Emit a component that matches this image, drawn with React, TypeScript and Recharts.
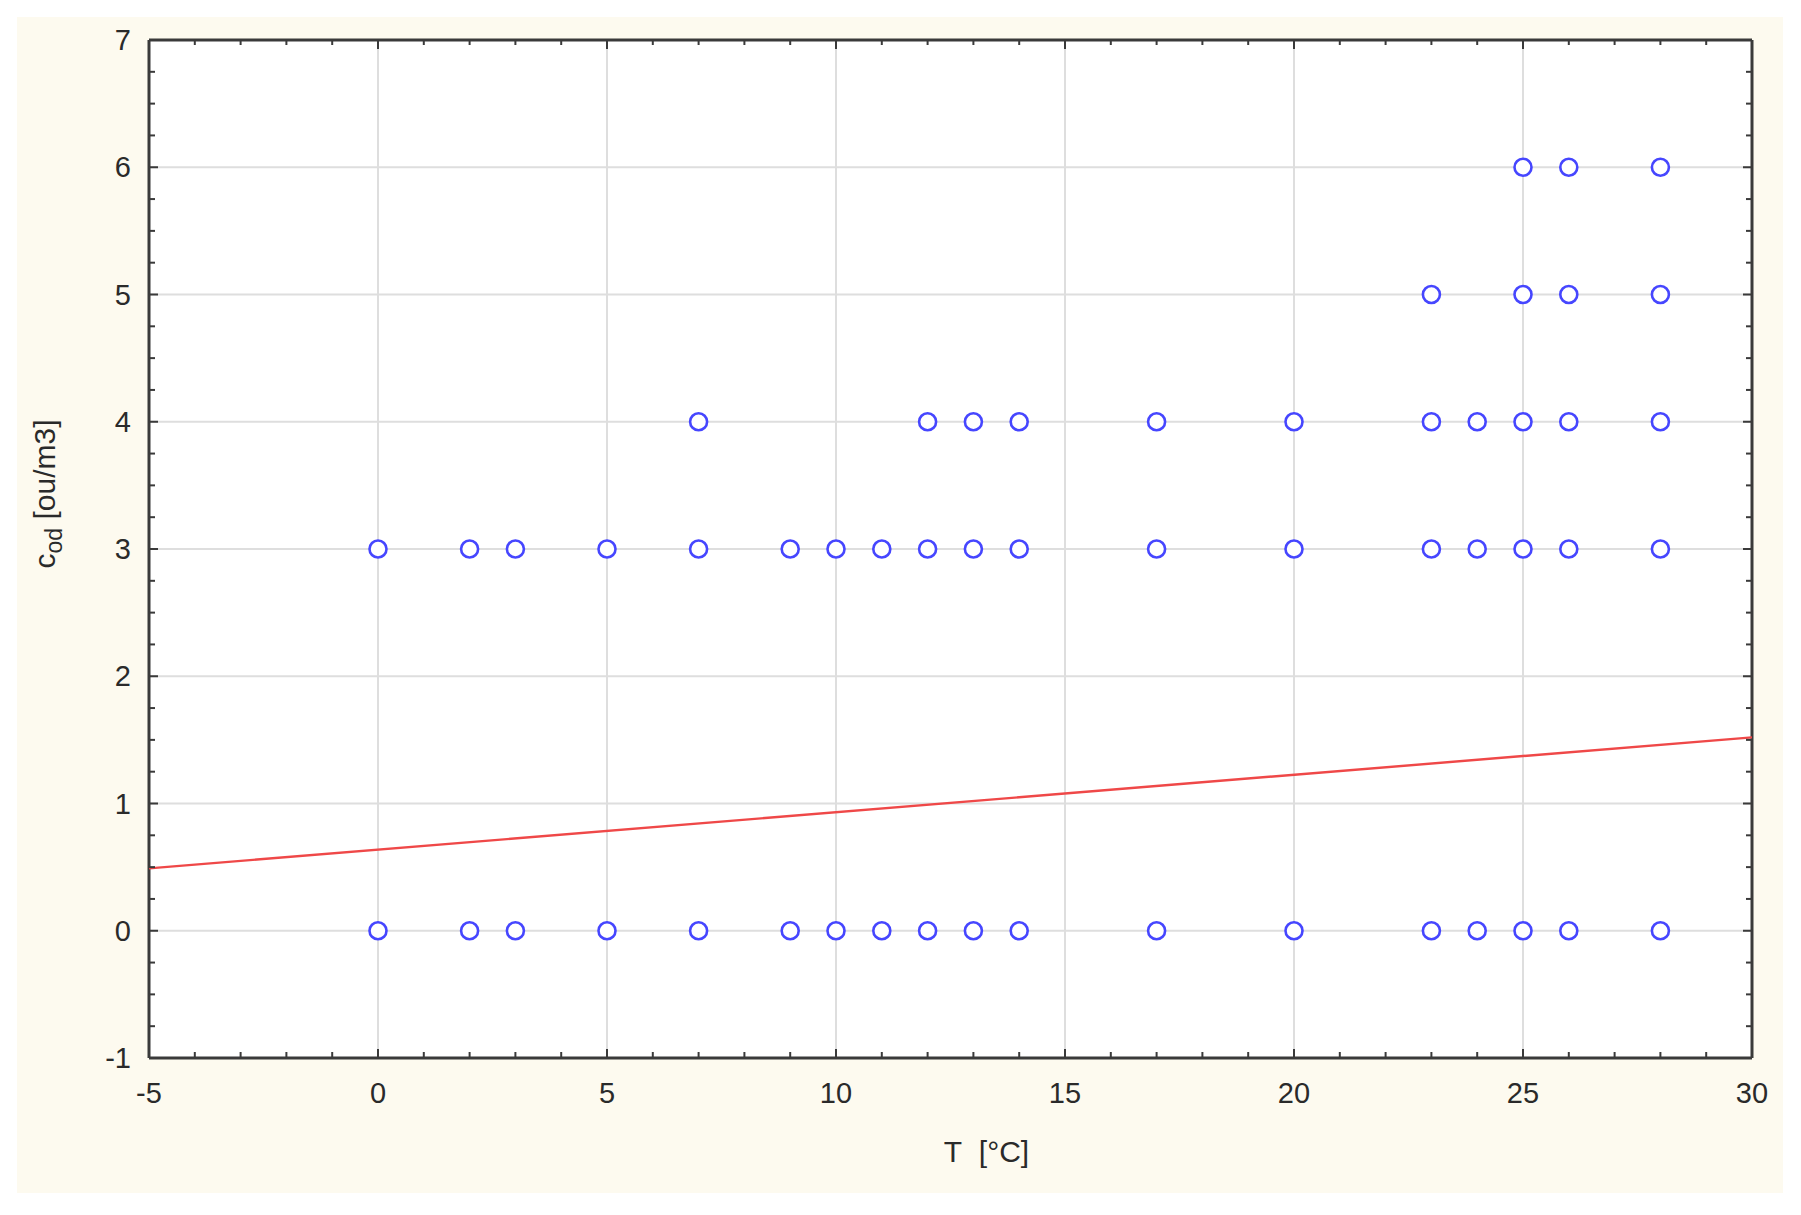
import { ScatterChart, Scatter, XAxis, YAxis, CartesianGrid, ReferenceLine, Label } from "recharts";

// measured odour concentration levels and the temperatures they were seen at
const level0 = [0, 2, 3, 5, 7, 9, 10, 11, 12, 13, 14, 17, 20, 23, 24, 25, 26, 28];
const level3 = [0, 2, 3, 5, 7, 9, 10, 11, 12, 13, 14, 17, 20, 23, 24, 25, 26, 28];
const level4 = [7, 12, 13, 14, 17, 20, 23, 24, 25, 26, 28];
const level5 = [23, 25, 26, 28];
const level6 = [25, 26, 28];

// fitted line end points
const fitT = [-5, 30];
const fitC = [0.49, 1.52];

// tick labels
const majorX = [-5, 0, 5, 10, 15, 20, 25, 30];
const majorY = [-1, 0, 1, 2, 3, 4, 5, 6, 7];

const minorX = Array.from({ length: 36 }, (_, i) => i - 5);
const minorY = Array.from({ length: 33 }, (_, i) => i * 0.25 - 1);

const points = [
  ...level0.map((t) => ({ t, c: 0 })),
  ...level3.map((t) => ({ t, c: 3 })),
  ...level4.map((t) => ({ t, c: 4 })),
  ...level5.map((t) => ({ t, c: 5 })),
  ...level6.map((t) => ({ t, c: 6 })),
];
const fitLine = fitT.map((t, i) => ({ t, c: fitC[i] }));

const font = "'Liberation Sans', Arial, sans-serif";
const axisColor = "#3a3a3a";

const BottomTick = ({ x, y, payload }: any) => {
  const major = majorX.includes(payload.value);
  return (
    <g>
      <line x1={x} x2={x} y1={y} y2={y - (major ? 9 : 6)} stroke={axisColor} strokeWidth={2} />
      {major && (
        <text x={x} y={y + 45} textAnchor="middle" fontSize={29} fontFamily={font} fill="#2a2a2a">
          {payload.value}
        </text>
      )}
    </g>
  );
};

const TopTick = ({ x, y, payload }: any) => {
  const major = majorX.includes(payload.value);
  return <line x1={x} x2={x} y1={y} y2={y + (major ? 9 : 5)} stroke={axisColor} strokeWidth={2} />;
};

const LeftTick = ({ x, y, payload }: any) => {
  const major = majorY.includes(payload.value);
  return (
    <g>
      <line x1={x} x2={x + (major ? 9 : 6)} y1={y} y2={y} stroke={axisColor} strokeWidth={2} />
      {major && (
        <text x={x - 18} y={y + 10} textAnchor="end" fontSize={29} fontFamily={font} fill="#2a2a2a">
          {payload.value}
        </text>
      )}
    </g>
  );
};

const RightTick = ({ x, y, payload }: any) => {
  const major = majorY.includes(payload.value);
  return <line x1={x} x2={x - (major ? 9 : 6)} y1={y} y2={y} stroke={axisColor} strokeWidth={2} />;
};

const XTitle = ({ viewBox }: any) => (
  <text
    x={viewBox.x + viewBox.width / 2 + 36}
    y={viewBox.y + 104}
    textAnchor="middle"
    fontSize={30}
    fontFamily={font}
    fill="#2a2a2a"
  >
    {"T\u00a0\u00a0[°C]"}
  </text>
);

const YTitle = ({ viewBox }: any) => {
  const cx = viewBox.x - 14;
  const cy = viewBox.y + viewBox.height / 2 - 55;
  return (
    <text
      x={cx}
      y={cy}
      transform={`rotate(-90 ${cx} ${cy})`}
      textAnchor="middle"
      fontSize={30}
      fontFamily={font}
      fill="#2a2a2a"
    >
      c
      <tspan fontSize={23} dy={7}>od</tspan>
      <tspan dy={-7}>{"\u00a0[ou/m3]"}</tspan>
    </text>
  );
};

const Ring = ({ cx, cy }: any) => (
  <circle cx={cx} cy={cy} r={8.5} fill="#fff" stroke="#4646ff" strokeWidth={2.6} />
);

const App = () => {
  return (
    <div style={{ position: "absolute", left: 0, top: 0, width: 1801, height: 1215, background: "#fff" }}>
      <div
        style={{ position: "absolute", left: 17, top: 17, width: 1766, height: 1176, background: "#fdfaef" }}
      />
      <div style={{ position: "absolute", left: 0, top: 0 }}>
        <ScatterChart width={1801} height={1215} margin={{ top: 39, right: 48, bottom: 97, left: 69 }}>
          <CartesianGrid horizontal={false} vertical={false} fill="#fff" />
          <XAxis
            type="number"
            dataKey="t"
            domain={[-5, 30]}
            ticks={minorX}
            interval={0}
            height={60}
            tickSize={0}
            tickMargin={0}
            tickLine={false}
            tick={BottomTick}
            axisLine={{ stroke: axisColor, strokeWidth: 3 }}
            allowDataOverflow
          >
            <Label content={XTitle} />
          </XAxis>
          <XAxis
            xAxisId="top"
            orientation="top"
            type="number"
            dataKey="t"
            domain={[-5, 30]}
            ticks={minorX}
            interval={0}
            height={1}
            tickSize={0}
            tickMargin={0}
            tickLine={false}
            tick={TopTick}
            axisLine={{ stroke: axisColor, strokeWidth: 3 }}
            allowDataOverflow
          />
          <YAxis
            type="number"
            dataKey="c"
            domain={[-1, 7]}
            ticks={minorY}
            interval={0}
            width={80}
            tickSize={0}
            tickMargin={0}
            tickLine={false}
            tick={LeftTick}
            axisLine={{ stroke: axisColor, strokeWidth: 3 }}
            allowDataOverflow
          >
            <Label content={YTitle} />
          </YAxis>
          <YAxis
            yAxisId="right"
            orientation="right"
            type="number"
            dataKey="c"
            domain={[-1, 7]}
            ticks={minorY}
            interval={0}
            width={1}
            tickSize={0}
            tickMargin={0}
            tickLine={false}
            tick={RightTick}
            axisLine={{ stroke: axisColor, strokeWidth: 3 }}
            allowDataOverflow
          />
          {majorX.slice(1, -1).map((v) => (
            <ReferenceLine key={`gx-${v}`} x={v} stroke="#dedede" strokeWidth={2} />
          ))}
          {majorY.slice(1, -1).map((v) => (
            <ReferenceLine key={`gy-${v}`} y={v} stroke="#dedede" strokeWidth={2} />
          ))}
          <Scatter
            data={fitLine}
            line={{ stroke: "#ef4848", strokeWidth: 2.4 }}
            shape={() => <g />}
            isAnimationActive={false}
          />
          {/* binds the mirrored top and right axes so they get drawn */}
          <Scatter
            xAxisId="top"
            yAxisId="right"
            data={fitLine}
            shape={() => <g />}
            isAnimationActive={false}
          />
          <Scatter data={points} shape={Ring} isAnimationActive={false} />
        </ScatterChart>
      </div>
    </div>
  );
};

export default App;
